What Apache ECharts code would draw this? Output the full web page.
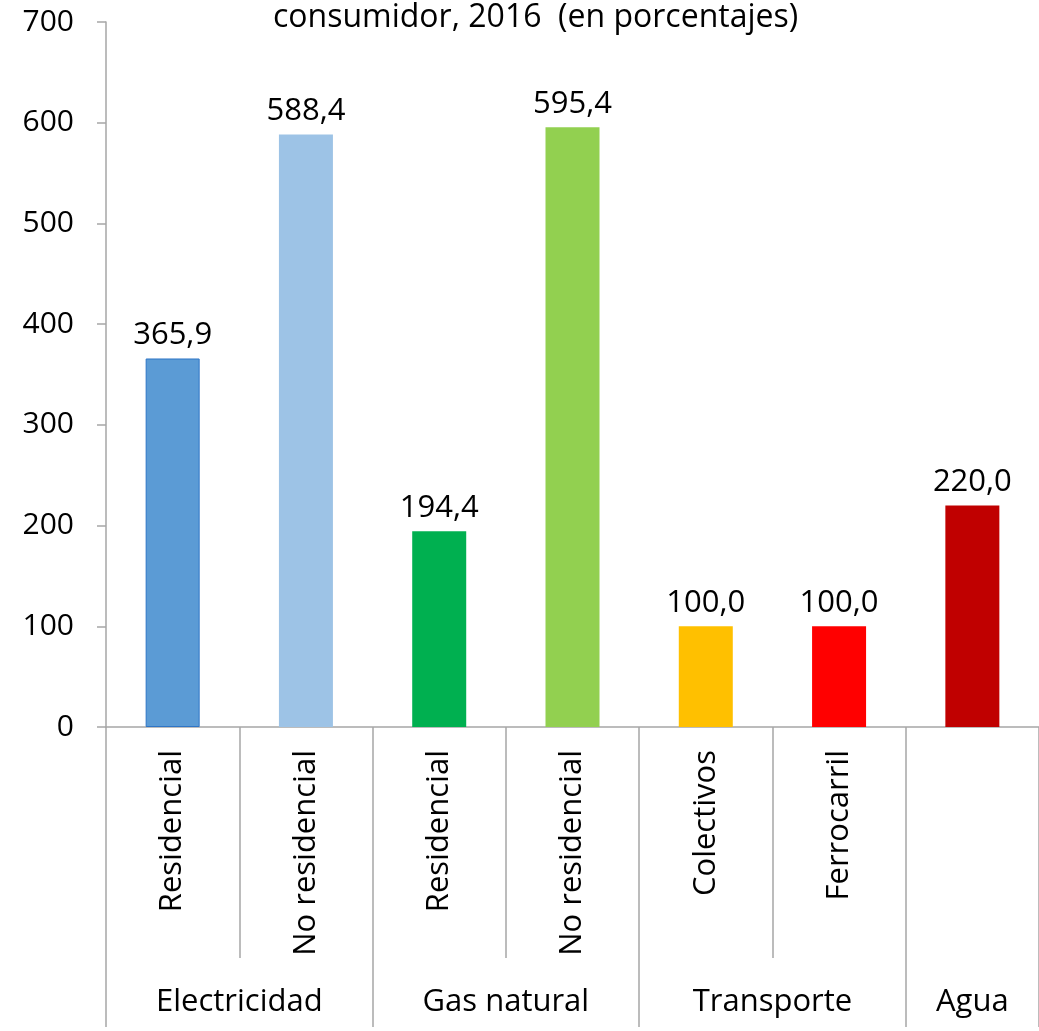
<!DOCTYPE html>
<html>
<head>
<meta charset="utf-8">
<script src="https://cdn.jsdelivr.net/npm/echarts@6/dist/echarts.min.js"></script>
<style>html,body{margin:0;padding:0;background:#fff;}#c{width:1039px;height:1031px;}</style>
</head>
<body>
<div id="c"></div>
<script>
const titleText = 'consumidor, 2016  (en porcentajes)';
const categories = ['Residencial', 'No residencial', 'Residencial', 'No residencial', 'Colectivos', 'Ferrocarril', ''];
const groups = ['Electricidad', 'Gas natural', 'Transporte', 'Agua'];
const groupSizes = [2, 2, 2, 1];
const values = [365.9, 588.4, 194.4, 595.4, 100.0, 100.0, 220.0];
const barColors = ['#5B9BD5', '#9DC3E6', '#00B050', '#92D050', '#FFC000', '#FF0000', '#C00000'];
const yTicks = [0, 100, 200, 300, 400, 500, 600, 700];

const FONT = 'Open Sans';
const AX = '#A6A6A6';

// group boundaries and centres (in category units)
const bounds = [0];
const centers = [];
groupSizes.forEach(s => { const b = bounds[bounds.length - 1]; centers.push(b + s / 2); bounds.push(b + s); });

const chart = echarts.init(document.getElementById('c'), null, {renderer: 'canvas'});
chart.setOption({
  animation: false,
  backgroundColor: '#fff',
  title: {
    text: titleText,
    left: 268, top: -3,
    textStyle: {fontFamily: FONT, fontSize: 32, fontWeight: 'normal', color: '#000'}
  },
  grid: {left: 106, right: 0, top: 22, bottom: 304, containLabel: false},
  xAxis: [{
    type: 'category',
    data: categories,
    boundaryGap: true,
    axisLine: {show: true, lineStyle: {color: AX, width: 1.5}},
    axisTick: {show: true, length: 231, interval: 0, lineStyle: {color: AX, width: 1.5}},
    axisLabel: {rotate: 90, interval: 0, margin: 23, fontFamily: FONT, fontSize: 31, color: '#000'}
  }, {
    type: 'value',
    min: 0, max: categories.length,
    position: 'bottom',
    axisLine: {show: false},
    splitLine: {show: false},
    axisTick: {show: true, length: 300, customValues: bounds, lineStyle: {color: AX, width: 1.5}},
    axisLabel: {
      show: true, margin: 260, customValues: centers,
      formatter: v => { const i = centers.indexOf(v); return i >= 0 ? groups[i] : ''; },
      fontFamily: FONT, fontSize: 31, color: '#000'
    }
  }],
  yAxis: {
    type: 'value',
    min: 0, max: 700, interval: 100,
    axisLine: {show: true, lineStyle: {color: AX, width: 1.5}},
    axisTick: {show: true, length: 9, lineStyle: {color: AX, width: 1.5}},
    splitLine: {show: false},
    axisLabel: {
      margin: 32, fontFamily: FONT, fontSize: 30, color: '#000',
      formatter: v => yTicks.indexOf(v) >= 0 ? String(v) : ''
    }
  },
  series: [{
    type: 'bar',
    xAxisIndex: 0,
    barWidth: 54,
    data: values.map((v, i) => ({
      value: v,
      itemStyle: i === 0 ? {color: barColors[i], borderColor: '#2E75C6', borderWidth: 1} : {color: barColors[i]}
    })),
    label: {
      show: true, position: 'top', distance: 8,
      fontFamily: FONT, fontSize: 31, color: '#000',
      formatter: p => p.value.toFixed(1).replace('.', ',')
    }
  }]
});
</script>
</body>
</html>
